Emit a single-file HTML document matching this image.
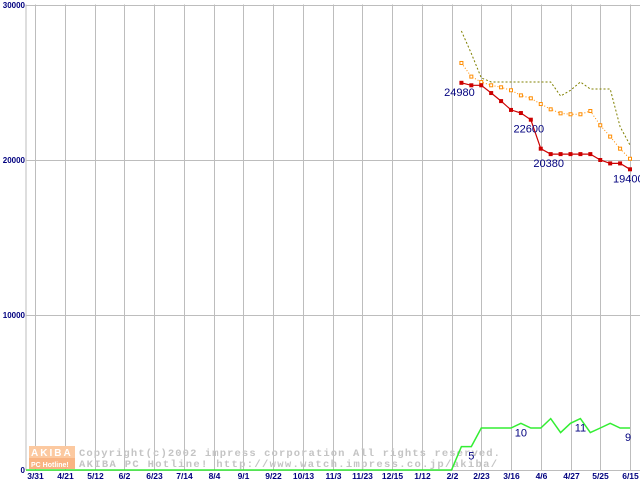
<!DOCTYPE html>
<html><head><meta charset="utf-8"><style>
html,body{margin:0;padding:0;background:#fff;}
svg{display:block;font-family:"Liberation Sans",sans-serif;}
</style></head><body>
<svg id="chart" width="640" height="480" viewBox="0 0 640 480">
<g id="grid"></g>
<g id="ylabels"></g>
<g id="xlabels"></g>
<g>
  <rect x="29" y="446" width="46" height="12" fill="#fcc9a0"/>
  <rect x="29" y="458" width="46" height="11" fill="#f9b483"/>
  <text x="31" y="456" font-size="10" font-weight="bold" fill="#fff" letter-spacing="2">AKIBA</text>
  <text x="31" y="467" font-size="7" font-weight="bold" fill="#fff">PC Hotline!</text>
  <text x="79" y="456" font-family="Liberation Mono, monospace" font-size="10.5" font-weight="bold" fill="#c4c4c4" textLength="421" lengthAdjust="spacing">Copyright(c)2002 impress corporation All rights reserved.</text>
  <text x="79" y="467" font-family="Liberation Mono, monospace" font-size="10.5" font-weight="bold" fill="#c4c4c4" textLength="418" lengthAdjust="spacing">AKIBA PC Hotline!  http://www.watch.impress.co.jp/akiba/</text>
</g>
<g id="series"></g>
</svg>
<script>
const xTicks=["3/31","4/21","5/12","6/2","6/23","7/14","8/4","9/1","9/22","10/13","11/3","11/23","12/15","1/12","2/2","2/23","3/16","4/6","4/27","5/25","6/15"];
const yTicks=[0,10000,20000,30000];
const priceStart=43;
const minPrice=[24980,24820,24820,24320,23800,23230,23030,22600,20730,20380,20380,20380,20380,20380,20000,19780,19780,19400];
const avgPrice=[26260,25380,25030,24820,24690,24500,24170,23980,23610,23270,23010,22950,22950,23160,22240,21510,20730,20080];
const maxPrice=[28320,26880,25300,25030,25030,25030,25030,25030,25030,25030,24130,24500,25030,24580,24580,24580,22150,20970];
const shopCount=[0,0,0,0,0,0,0,0,0,0,0,0,0,0,0,0,0,0,0,0,0,0,0,0,0,0,0,0,0,0,0,0,0,0,0,0,0,0,0,0,0,0,0,5,5,9,9,9,9,10,9,9,11,8,10,11,8,9,10,9,9];
const priceLabels=[[43,"24980"],[50,"22600"],[52,"20380"],[60,"19400"]];
const countLabels=[[44,"5"],[49,"10"],[55,"11"],[60,"9"]];

const NS="http://www.w3.org/2000/svg";
const x0=35,wk=29.75/3;
function X(i){return x0+i*wk;}
function Y(v){return 470-v*155/10000;}
function C(v){return 470-v*4.67;}
function mk(tag,attrs,parent){const e=document.createElementNS(NS,tag);for(const k in attrs)e.setAttribute(k,attrs[k]);parent.appendChild(e);return e;}
const grid=document.getElementById('grid'),yl=document.getElementById('ylabels'),xl=document.getElementById('xlabels'),ser=document.getElementById('series');

let e=mk('line',{x1:26,y1:4.5,x2:26,y2:470,stroke:'#bdbdbd','stroke-width':1},grid);


yTicks.forEach(v=>{
  const l=mk('line',{x1:26,x2:640,y1:Y(v)+0.5,y2:Y(v)+0.5,stroke:'#bdbdbd','stroke-width':1},grid);
  
  
  const t=mk('text',{x:25,y:Y(v)+3,'text-anchor':'end','font-size':8,'font-weight':'bold',fill:'#00007f'},yl);
  t.textContent=v;
  
  
});
xTicks.forEach((s,k)=>{
  const x=Math.round(X(k*3))+0.5;
  const l=mk('line',{x1:x,x2:x,y1:4.5,y2:470,stroke:'#bdbdbd','stroke-width':1},grid);
  
  
  const t=mk('text',{x:x,y:479,'text-anchor':'middle','font-size':8.5,'font-weight':'bold',fill:'#00007f'},xl);
  t.textContent=s;
  
  
});

function pts(arr,start,f){return arr.map((v,i)=>X(start+i).toFixed(1)+','+f(v).toFixed(1)).join(' ');}
let g=mk('polyline',{points:'26,'+C(0)+' '+pts(shopCount,0,C),fill:'none',stroke:'#33ee33','stroke-width':1.5},ser);


let m=mk('polyline',{points:pts(maxPrice,priceStart,Y),fill:'none',stroke:'#808000','stroke-width':1,'stroke-dasharray':'2,2'},ser);


let a=mk('polyline',{points:pts(avgPrice,priceStart,Y),fill:'none',stroke:'#ff8c00','stroke-width':1,'stroke-dasharray':'1,2'},ser);


avgPrice.forEach((v,i)=>{
  const r=mk('rect',{x:X(priceStart+i)-1.5,y:Y(v)-1.5,width:3,height:3,fill:'#fff',stroke:'#ff8c00','stroke-width':1},ser);
  
  
});
let n=mk('polyline',{points:pts(minPrice,priceStart,Y),fill:'none',stroke:'#cc0000','stroke-width':1.2},ser);


minPrice.forEach((v,i)=>{
  const r=mk('rect',{x:X(priceStart+i)-2,y:Y(v)-2,width:4,height:4,fill:'#cc0000'},ser);
  
  
});
priceLabels.forEach(([i,s])=>{
  const v=minPrice[i-priceStart];
  const t=mk('text',{x:X(i)-2,y:Y(v)+13,'text-anchor':'middle','font-size':11,fill:'#00007f'},ser);
  if(i===60){t.setAttribute('x',X(i)-17);t.setAttribute('text-anchor','start');}
  t.textContent=s;
  
  
});
countLabels.forEach(([i,s])=>{
  const v=shopCount[i];
  const t=mk('text',{x:X(i),y:C(v)+13,'text-anchor':'middle','font-size':11,fill:'#00007f'},ser);
  if(i===60)t.setAttribute('x',X(i)-2);
  t.textContent=s;
  
  
});
</script>
</body></html>
